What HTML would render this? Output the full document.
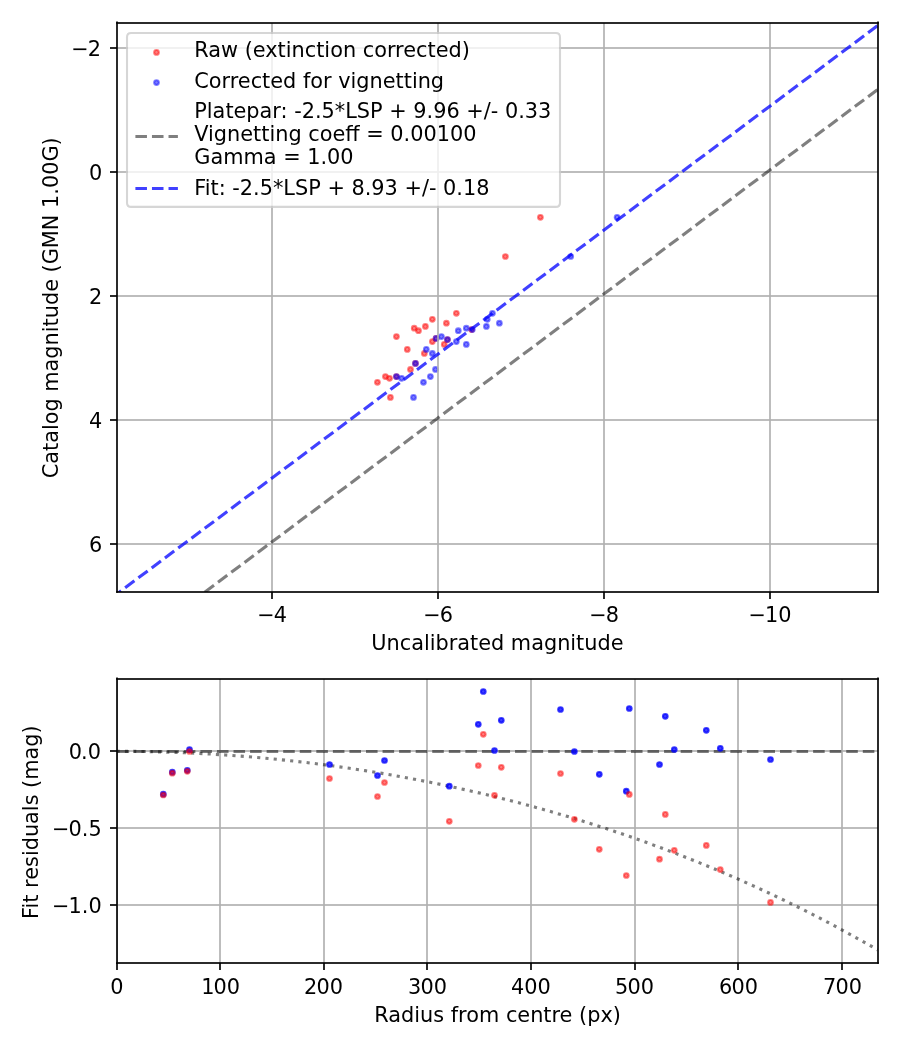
<!DOCTYPE html>
<html lang="en">
<head>
<meta charset="utf-8">
<title>Photometry calibration</title>
<style>
html,body{margin:0;padding:0;background:#fff;}
body{width:900px;height:1050px;overflow:hidden;font-family:"DejaVu Sans","Liberation Sans",sans-serif;}
svg{display:block;}
text{white-space:pre;}
</style>
</head>
<body>
<svg width="900" height="1050" viewBox="0 0 900 1050">
<defs>
<clipPath id="c1"><rect x="117" y="23" width="761" height="569"/></clipPath>
<clipPath id="c2"><rect x="117" y="679" width="761" height="284"/></clipPath>
</defs>
<rect width="900" height="1050" fill="#ffffff"/>
<g id="axes-top">
<g clip-path="url(#c1)">
<g class="raw" fill="#ff0000" stroke="#ff0000" fill-opacity="0.5" stroke-opacity="0.5" stroke-width="2.08">
<circle cx="456.36" cy="313.29" r="2.33"/>
<circle cx="432.36" cy="319.33" r="2.33"/>
<circle cx="446.4" cy="323.24" r="2.33"/>
<circle cx="425.42" cy="326.44" r="2.33"/>
<circle cx="414.22" cy="328.22" r="2.33"/>
<circle cx="471.6" cy="329.55" r="2.33"/>
<circle cx="418.49" cy="330.71" r="2.33"/>
<circle cx="396.44" cy="336.58" r="2.33"/>
<circle cx="436.09" cy="338.48" r="2.33"/>
<circle cx="447.47" cy="339.54" r="2.33"/>
<circle cx="432.36" cy="341.56" r="2.33"/>
<circle cx="444.27" cy="344.4" r="2.33"/>
<circle cx="407.29" cy="349.38" r="2.33"/>
<circle cx="424.36" cy="353.47" r="2.33"/>
<circle cx="415.47" cy="363.42" r="2.33"/>
<circle cx="410.49" cy="369.49" r="2.33"/>
<circle cx="396.44" cy="376.58" r="2.33"/>
<circle cx="385.42" cy="376.58" r="2.33"/>
<circle cx="389.51" cy="378.36" r="2.33"/>
<circle cx="377.42" cy="382.27" r="2.33"/>
<circle cx="390.4" cy="397.38" r="2.33"/>
<circle cx="540.4" cy="217.3" r="2.33"/>
<circle cx="505.4" cy="256.5" r="2.33"/>
</g>
<g class="corr" fill="#0000ff" stroke="#0000ff" fill-opacity="0.5" stroke-opacity="0.5" stroke-width="2.08">
<circle cx="492.44" cy="313.29" r="2.33"/>
<circle cx="487.29" cy="319.33" r="2.33"/>
<circle cx="499.38" cy="323.24" r="2.33"/>
<circle cx="486.4" cy="326.44" r="2.33"/>
<circle cx="466.31" cy="328.22" r="2.33"/>
<circle cx="472.3" cy="329.55" r="2.33"/>
<circle cx="458.31" cy="330.71" r="2.33"/>
<circle cx="441.42" cy="336.58" r="2.33"/>
<circle cx="436.09" cy="338.48" r="2.33"/>
<circle cx="447.47" cy="339.54" r="2.33"/>
<circle cx="456.36" cy="341.56" r="2.33"/>
<circle cx="466.31" cy="344.4" r="2.33"/>
<circle cx="426.31" cy="349.38" r="2.33"/>
<circle cx="432.36" cy="353.47" r="2.33"/>
<circle cx="415.47" cy="363.42" r="2.33"/>
<circle cx="435.5" cy="369.49" r="2.33"/>
<circle cx="396.44" cy="376.58" r="2.33"/>
<circle cx="430.4" cy="376.58" r="2.33"/>
<circle cx="401.6" cy="378.36" r="2.33"/>
<circle cx="423.47" cy="382.27" r="2.33"/>
<circle cx="413.51" cy="397.38" r="2.33"/>
<circle cx="617.1" cy="217.3" r="2.33"/>
<circle cx="570.7" cy="256.5" r="2.33"/>
</g>
</g>
<g clip-path="url(#c1)">
<g fill="none" stroke="#b0b0b0" stroke-width="1.67" stroke-linecap="square">
<path d="M272 592V23"/>
<path d="M438 592V23"/>
<path d="M604 592V23"/>
<path d="M770 592V23"/>
</g>
<g fill="#b0b0b0" fill-opacity="0.8333">
<rect x="116.17" y="47" width="762.67" height="2"/>
<rect x="116.17" y="171" width="762.67" height="2"/>
<rect x="116.17" y="295" width="762.67" height="2"/>
<rect x="116.17" y="419" width="762.67" height="2"/>
<rect x="116.17" y="543" width="762.67" height="2"/>
</g>
</g>
<g fill="none" stroke="#000000" stroke-width="1.67">
<path d="M272 592v7"/>
<path d="M438 592v7"/>
<path d="M604 592v7"/>
<path d="M770 592v7"/>
</g>
<g fill="#000000" fill-opacity="0.8333">
<rect x="110" y="47" width="7" height="2"/>
<rect x="110" y="171" width="7" height="2"/>
<rect x="110" y="295" width="7" height="2"/>
<rect x="110" y="419" width="7" height="2"/>
<rect x="110" y="543" width="7" height="2"/>
</g>
<g clip-path="url(#c1)"><g transform="translate(0 0.4)" fill="none" stroke-width="3.12" stroke-dasharray="11.56,5" stroke-dashoffset="-0.8">
<path d="M878 88.85L117 657.3" stroke="#000000" stroke-opacity="0.5"/>
<path d="M878 24.99L117 593.44" stroke="#0000ff" stroke-opacity="0.75"/>
</g></g>
<g fill="none" stroke="#000000" stroke-width="1.67" stroke-linecap="square">
<path d="M117 592V22.3"/>
<path d="M878 592V22.3"/>
</g>
<g fill="#000000" fill-opacity="0.8333">
<rect x="116.17" y="591" width="762.67" height="2"/>
<rect x="116.17" y="22" width="762.67" height="2"/>
</g>
<g id="legend">
<path d="M131.17 206.9H555.83Q560 206.9 560 202.73V37.17Q560 33 555.83 33H131.17Q127 33 127 37.17V202.73Q127 206.9 131.17 206.9Z" fill="#ffffff" stroke="#cccccc" stroke-width="2.08" stroke-linejoin="miter" opacity="0.8"/>
<circle cx="156.5" cy="52.4" r="2.33" fill="#ff0000" stroke="#ff0000" fill-opacity="0.5" stroke-opacity="0.5" stroke-width="2.08"/>
<circle cx="156.5" cy="82.55" r="2.33" fill="#0000ff" stroke="#0000ff" fill-opacity="0.5" stroke-opacity="0.5" stroke-width="2.08"/>
<path d="M135.4 136.5H177.9" fill="none" stroke="#000000" stroke-opacity="0.5" stroke-width="3.12" stroke-dasharray="11.56,5"/>
<path d="M135.4 188.5H177.9" fill="none" stroke="#0000ff" stroke-opacity="0.75" stroke-width="3.12" stroke-dasharray="11.56,5"/>
</g>
</g>
<g id="axes-bottom">
<g clip-path="url(#c2)">
<g fill="none" stroke="#b0b0b0" stroke-width="1.67" stroke-linecap="square">
<path d="M117 963V679"/>
<path d="M220 963V679"/>
<path d="M324 963V679"/>
<path d="M427 963V679"/>
<path d="M531 963V679"/>
<path d="M635 963V679"/>
<path d="M738 963V679"/>
<path d="M842 963V679"/>
</g>
<g fill="#b0b0b0" fill-opacity="0.8333">
<rect x="116.17" y="750" width="762.67" height="2"/>
<rect x="116.17" y="827" width="762.67" height="2"/>
<rect x="116.17" y="904" width="762.67" height="2"/>
</g>
</g>
<g fill="none" stroke="#000000" stroke-width="1.67">
<path d="M117 963v7"/>
<path d="M220 963v7"/>
<path d="M324 963v7"/>
<path d="M427 963v7"/>
<path d="M531 963v7"/>
<path d="M635 963v7"/>
<path d="M738 963v7"/>
<path d="M842 963v7"/>
</g>
<g fill="#000000" fill-opacity="0.8333">
<rect x="110" y="750" width="7" height="2"/>
<rect x="110" y="827" width="7" height="2"/>
<rect x="110" y="904" width="7" height="2"/>
</g>
<g clip-path="url(#c2)" fill="none" stroke="#000000" stroke-opacity="0.5" stroke-width="3.12">
<path d="M117.6 751.5H877.5" stroke-dasharray="11.56,5"/>
<path d="M116.6 751.3L132.13 751.37L147.66 751.6L163.19 751.97L178.72 752.5L194.25 753.17L209.78 754L225.31 754.97L240.84 756.1L256.37 757.38L271.9 758.81L287.43 760.39L302.96 762.13L318.49 764.02L334.02 766.07L349.55 768.28L365.08 770.64L380.61 773.16L396.14 775.84L411.67 778.68L427.19 781.68L442.72 784.85L458.25 788.18L473.78 791.68L489.31 795.35L504.84 799.19L520.37 803.2L535.9 807.39L551.43 811.75L566.96 816.3L582.49 821.02L598.02 825.93L613.55 831.03L629.08 836.32L644.61 841.8L660.14 847.48L675.67 853.35L691.2 859.43L706.73 865.72L722.26 872.22L737.79 878.93L753.32 885.86L768.85 893.02L784.38 900.4L799.91 908.02L815.44 915.88L830.97 923.99L846.5 932.34L862.03 940.95L877.56 949.83" stroke-dasharray="3.12,5.16"/>
</g>
<g fill="none" stroke="#000000" stroke-width="1.67" stroke-linecap="square">
<path d="M117 963V678.3"/>
<path d="M878 963V678.3"/>
</g>
<g fill="#000000" fill-opacity="0.8333">
<rect x="116.17" y="962" width="762.67" height="2"/>
<rect x="116.17" y="678" width="762.67" height="2"/>
</g>
<g clip-path="url(#c2)">
<g class="resid" fill="#0000ff" stroke="#0000ff" fill-opacity="0.75" stroke-opacity="0.75" stroke-width="2.08">
<circle cx="163.3" cy="794.2" r="2.33"/>
<circle cx="172.3" cy="772.2" r="2.33"/>
<circle cx="187.3" cy="770.3" r="2.33"/>
<circle cx="189.5" cy="749.5" r="2.33"/>
<circle cx="329.5" cy="764.5" r="2.33"/>
<circle cx="377.5" cy="775.5" r="2.33"/>
<circle cx="384.5" cy="760.5" r="2.33"/>
<circle cx="449.3" cy="786.2" r="2.33"/>
<circle cx="478.3" cy="724.3" r="2.33"/>
<circle cx="483.3" cy="691.5" r="2.33"/>
<circle cx="494.5" cy="750.5" r="2.33"/>
<circle cx="501.3" cy="720.3" r="2.33"/>
<circle cx="560.5" cy="709.5" r="2.33"/>
<circle cx="574.4" cy="751.5" r="2.33"/>
<circle cx="599.3" cy="774.3" r="2.33"/>
<circle cx="626.3" cy="791.2" r="2.33"/>
<circle cx="629.3" cy="708.5" r="2.33"/>
<circle cx="659.5" cy="764.5" r="2.33"/>
<circle cx="665.3" cy="716.3" r="2.33"/>
<circle cx="674.3" cy="749.5" r="2.33"/>
<circle cx="706.3" cy="730.3" r="2.33"/>
<circle cx="720.3" cy="748.3" r="2.33"/>
<circle cx="770.5" cy="759.5" r="2.33"/>
</g>
<g class="resid-novig" fill="#ff0000" stroke="#ff0000" fill-opacity="0.5" stroke-opacity="0.5" stroke-width="2.08">
<circle cx="163.3" cy="795" r="2.33"/>
<circle cx="172.3" cy="773.2" r="2.33"/>
<circle cx="187.3" cy="771.3" r="2.33"/>
<circle cx="189.5" cy="751.5" r="2.33"/>
<circle cx="329.5" cy="778.5" r="2.33"/>
<circle cx="377.5" cy="796.5" r="2.33"/>
<circle cx="384.5" cy="782.5" r="2.33"/>
<circle cx="449.3" cy="821.3" r="2.33"/>
<circle cx="478.3" cy="765.5" r="2.33"/>
<circle cx="483.3" cy="734.3" r="2.33"/>
<circle cx="494.5" cy="795.3" r="2.33"/>
<circle cx="501.3" cy="767.3" r="2.33"/>
<circle cx="560.5" cy="773.5" r="2.33"/>
<circle cx="574.4" cy="819.3" r="2.33"/>
<circle cx="599.3" cy="849.3" r="2.33"/>
<circle cx="626.3" cy="875.5" r="2.33"/>
<circle cx="629.3" cy="794.4" r="2.33"/>
<circle cx="659.5" cy="859.2" r="2.33"/>
<circle cx="665.3" cy="814.4" r="2.33"/>
<circle cx="674.3" cy="850.3" r="2.33"/>
<circle cx="706.3" cy="845.4" r="2.33"/>
<circle cx="720.3" cy="869.6" r="2.33"/>
<circle cx="770.5" cy="902.4" r="2.33"/>
</g>
</g>
</g>
<g id="labels" fill="#000000" font-family="'DejaVu Sans', sans-serif" font-size="20.83px">
<text x="272.1" y="622.11" text-anchor="middle">−<tspan dx="-0.9">4</tspan></text>
<text x="438.1" y="622.11" text-anchor="middle">−<tspan dx="-0.9">6</tspan></text>
<text x="604.1" y="622.11" text-anchor="middle">−<tspan dx="-0.9">8</tspan></text>
<text x="770.1" y="622.11" text-anchor="middle">−<tspan dx="-0.9">10</tspan></text>
<text x="497.4" y="649.7" text-anchor="middle">Uncalibrated magnitude</text>
<text x="101.02" y="55.92" text-anchor="end">−<tspan dx="-0.9">2</tspan></text>
<text x="102.32" y="179.92" text-anchor="end">0</text>
<text x="102.32" y="303.92" text-anchor="end">2</text>
<text x="102.32" y="427.92" text-anchor="end">4</text>
<text x="102.32" y="551.92" text-anchor="end">6</text>
<text x="58.35" y="307.8" text-anchor="middle" transform="rotate(-90 58.35 307.8)">Catalog magnitude (GMN 1.00G)</text>
<text x="194.28" y="57.38" text-anchor="start">Raw (extinction corrected)</text>
<text x="194.28" y="87.96" text-anchor="start">Corrected for vignetting</text>
<text x="194.28" y="117.6" text-anchor="start">Platepar: -2.5*LSP + 9.96 +/- 0.33</text>
<text x="194.28" y="140.9" text-anchor="start">Vignetting coeff = 0.00100</text>
<text x="194.28" y="164.2" text-anchor="start">Gamma = 1.00</text>
<text x="194.28" y="194.6" text-anchor="start">Fit: -2.5*LSP + 8.93 +/- 0.18</text>
<text x="117" y="994.2" text-anchor="middle">0</text>
<text x="201.32" y="994.2" text-anchor="start">1<tspan dx="-1.2">00</tspan></text>
<text x="304.12" y="994.2" text-anchor="start">2<tspan dx="-1">00</tspan></text>
<text x="408.12" y="994.2" text-anchor="start">3<tspan dx="-1">00</tspan></text>
<text x="511.12" y="994.2" text-anchor="start">400</text>
<text x="615.12" y="994.2" text-anchor="start">5<tspan dx="-1">00</tspan></text>
<text x="719.12" y="994.2" text-anchor="start">6<tspan dx="-1">00</tspan></text>
<text x="823.12" y="994.2" text-anchor="start">7<tspan dx="-1">00</tspan></text>
<text x="497.6" y="1021.71" text-anchor="middle">Radius from centre (px)</text>
<text x="68.79" y="758.92" text-anchor="start">0<tspan dx="-1">.0</tspan></text>
<text x="101.67" y="835.92" text-anchor="end">−<tspan dx="-0.9">0.5</tspan></text>
<text x="101.67" y="912.92" text-anchor="end">−<tspan dx="-0.9">1.0</tspan></text>
<text x="38.45" y="822.15" text-anchor="middle" transform="rotate(-90 38.45 822.15)">Fit residuals (mag)</text>
</g>
</svg>
</body>
</html>
